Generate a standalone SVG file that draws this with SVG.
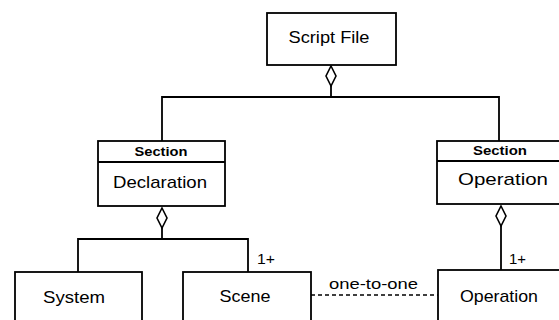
<svg xmlns="http://www.w3.org/2000/svg" width="559" height="320" viewBox="0 0 559 320">
<defs>
<style>
.box{fill:#fff;stroke:#000;stroke-width:1.8}
.ln{fill:none;stroke:#000;stroke-width:1.8}
.dash{fill:none;stroke:#000;stroke-width:1.5;stroke-dasharray:4 3}
.dia{fill:#fff;stroke:#000;stroke-width:1.6}
.t{font-family:"Liberation Sans",Arial,sans-serif;font-size:17px;fill:#000;text-anchor:middle}
.h{font-family:"Liberation Sans",Arial,sans-serif;font-size:13px;font-weight:bold;fill:#000;text-anchor:middle}
.m{font-family:"Liberation Sans",Arial,sans-serif;font-size:15px;fill:#000}
</style>
</defs>
<rect width="559" height="320" fill="#fff"/>
<g id="connectors">
<polyline class="ln" points="331,86 331,97"/>
<polyline class="ln" points="162,141 162,97 499,97 499,141"/>
<polyline class="ln" points="162,228 162,239"/>
<polyline class="ln" points="78,272 78,239 248,239 248,272"/>
<polyline class="ln" points="501,226 501,270"/>
<line class="dash" x1="311" y1="295" x2="438" y2="295"/>
<polygon class="dia" points="331,66 336,76 331,86 326,76"/>
<polygon class="dia" points="162,208 167,218 162,228 157,218"/>
<polygon class="dia" points="501,206 506,216 501,226 496,216"/>
<text class="m" x="257" y="264" textLength="18" lengthAdjust="spacingAndGlyphs">1+</text>
<text class="m" x="509" y="264" textLength="17" lengthAdjust="spacingAndGlyphs">1+</text>
<text class="m" x="329" y="289" textLength="89" lengthAdjust="spacingAndGlyphs">one-to-one</text>
</g>
<g id="script-file">
<rect class="box" x="267" y="13" width="129" height="52"/>
<text class="t" x="329" y="43" textLength="81" lengthAdjust="spacingAndGlyphs">Script File</text>
</g>
<g id="declaration">
<rect class="box" x="98" y="141" width="127" height="65"/>
<line class="ln" x1="98" y1="162" x2="225" y2="162"/>
<text class="h" x="161" y="156" textLength="53" lengthAdjust="spacingAndGlyphs">Section</text>
<text class="t" x="160" y="188" textLength="94" lengthAdjust="spacingAndGlyphs">Declaration</text>
</g>
<g id="operation-section">
<rect class="box" x="437" y="141" width="128" height="63"/>
<line class="ln" x1="437" y1="161" x2="565" y2="161"/>
<text class="h" x="500" y="155" textLength="54" lengthAdjust="spacingAndGlyphs">Section</text>
<text class="t" x="503" y="185" textLength="90" lengthAdjust="spacingAndGlyphs">Operation</text>
</g>
<g id="system">
<rect class="box" x="15" y="272" width="127" height="60"/>
<text class="t" x="74" y="303" textLength="62" lengthAdjust="spacingAndGlyphs">System</text>
</g>
<g id="scene">
<rect class="box" x="183" y="272" width="128" height="60"/>
<text class="t" x="245" y="302" textLength="51" lengthAdjust="spacingAndGlyphs">Scene</text>
</g>
<g id="operation">
<rect class="box" x="438" y="270" width="127" height="62"/>
<text class="t" x="499" y="302" textLength="78" lengthAdjust="spacingAndGlyphs">Operation</text>
</g>
</svg>
